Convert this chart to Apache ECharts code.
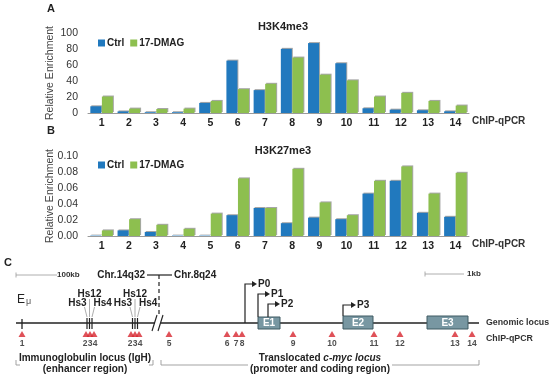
<!DOCTYPE html>
<html><head><meta charset="utf-8">
<script src="https://cdn.jsdelivr.net/npm/echarts@6/dist/echarts.min.js"></script>
<style>html,body{margin:0;padding:0;background:#fff}#c{width:550px;height:378px}</style>
</head><body><div id="c"></div>
<script>
const categories = ['1','2','3','4','5','6','7','8','9','10','11','12','13','14'];
const seriesNames = ['Ctrl','17-DMAG'];
const k4Ctrl  = [8.4, 2, 1, 1, 12.6, 65.5, 28.6, 80.2, 87.4, 62.2, 5.9, 4.2, 3.4, 2.1];
const k4Dmag  = [20.6, 5.5, 5, 5.5, 15.1, 29.8, 36.5, 69.3, 47.9, 40.8, 20.6, 25.2, 15.1, 9.3];
const k27Ctrl = [0.0005, 0.007, 0.005, 0.0005, 0.0005, 0.026, 0.035, 0.016, 0.023, 0.021, 0.053, 0.069, 0.029, 0.024];
const k27Dmag = [0.007, 0.021, 0.014, 0.009, 0.028, 0.072, 0.035, 0.084, 0.042, 0.026, 0.069, 0.087, 0.053, 0.079];
const k4Ticks = [0, 20, 40, 60, 80, 100];
const k27Ticks = [0, 0.02, 0.04, 0.06, 0.08, 0.10];
// schematic primer positions along the drawn locus (schematic units) and their labels
const primerPos = [22, 86, 90, 94, 131, 135, 139, 169, 227, 236, 242, 293, 332, 374, 400, 455, 472];
const primerLabels = ['1','2','3','4','2','3','4','5','6','7','8','9','10','11','12','13','14'];

const BLUE = '#2179be', GREEN = '#8dbf4f';
const FONT = '"Liberation Sans", Arial, sans-serif';

function barSeries(name, data, idx, color) {
  return {
    name, type: 'bar', data, xAxisIndex: idx, yAxisIndex: idx,
    barWidth: 11, barGap: '5%',
    itemStyle: { color, shadowColor: 'rgba(0,0,0,0.35)', shadowBlur: 0, shadowOffsetX: 1, shadowOffsetY: -1 },
    emphasis: { disabled: true }, animation: false
  };
}
function xAx(idx) {
  return {
    type: 'category', gridIndex: idx, data: categories,
    axisLine: { lineStyle: { color: '#9a9a9a', width: 1 } },
    axisTick: { show: false },
    axisLabel: { color: '#222', fontSize: 10.5, fontWeight: 'bold', fontFamily: FONT, margin: 5 }
  };
}
function yAx(idx, ticks, dec) {
  return {
    type: 'value', gridIndex: idx, min: ticks[0], max: ticks[ticks.length-1],
    interval: ticks[1]-ticks[0],
    name: 'Relative Enrichment', nameLocation: 'middle', nameGap: 32, nameMoveOverlap: false,
    nameTextStyle: { color: '#444', fontSize: 10.5, fontFamily: FONT },
    axisLine: { show: false }, axisTick: { show: false }, splitLine: { show: false },
    axisLabel: { color: '#333', fontSize: 10.5, fontFamily: FONT, margin: 10,
      formatter: v => dec ? v.toFixed(dec) : String(v) }
  };
}

// ---- schematic helpers (panel C) ----
const G = [];
const INK = '#222';
function line(x1,y1,x2,y2,stroke,w,dash){ G.push({type:'line',shape:{x1,y1,x2,y2},style:{stroke:stroke||INK,lineWidth:w||1,lineDash:dash||null},silent:true}); }
function poly(points,stroke,w){ G.push({type:'polyline',shape:{points},style:{stroke:stroke||INK,lineWidth:w||1,fill:null},silent:true}); }
function txt(x,y,text,size,weight,align,color,extra){ G.push({type:'text',x,y,style:Object.assign({text,fill:color||INK,font:(weight||'bold')+' '+size+'px '+FONT,align:align||'left',verticalAlign:'middle',textAlign:align||'left',textVerticalAlign:'middle'},extra||{}),silent:true}); }
function box(x,y,w,h,label){
  G.push({type:'rect',shape:{x,y,width:w,height:h},style:{fill:'#7897a2',stroke:'#3f5a63',lineWidth:1},silent:true});
  txt(x+w/2,y+h/2+0.5,label,10,'bold','center','#fff');
}
function promoter(x,y0,y1,len,label){
  poly([[x,y0],[x,y1],[x+len,y1]],INK,1.2);
  G.push({type:'polygon',shape:{points:[[x+len,y1-3],[x+len+5,y1],[x+len,y1+3]]},style:{fill:INK},silent:true});
  txt(x+len+6,y1,label,10,'bold','left');
}

// panel letters and chart extras
txt(47,9,'A',11,'bold','left');
txt(47,131,'B',11,'bold','left');
txt(4,263,'C',11,'bold','left');
txt(472,121,'ChIP-qPCR',10,'bold','left','#333');
txt(472,244,'ChIP-qPCR',10,'bold','left','#333');

// scale bars
line(16,275,57,275,'#999',0.8); line(16,272.5,16,277.5,'#999',0.8);
txt(57,275,'100kb',8,'bold','left','#333');
line(425,274,464,274,'#999',0.8); line(425,271.5,425,276.5,'#999',0.8);
txt(467,274,'1kb',8,'bold','left','#333');

// chromosome junction
txt(145,275,'Chr.14q32',10,'bold','right');
line(147,275,172,275,INK,1.2);
txt(174,275,'Chr.8q24',10,'bold','left');
line(159,275,159,318,INK,1.2,[4,3]);

// genomic line
line(16,323,479,323,INK,1.3);
G.push({type:'rect',shape:{x:155,y:316,width:6,height:14},style:{fill:'#fff'},silent:true});
line(152,331,157,315,INK,1.1); line(158,331,163,315,INK,1.1);
txt(486,323,'Genomic locus',8.8,'bold','left','#333');
txt(486,339,'ChIP-qPCR',8.8,'bold','left','#333');

// E mu
line(22,319,22,329,INK,1.3);
G.push({type:'text',x:17,y:300,style:{text:'{e|E}{m|μ}',verticalAlign:'middle',textVerticalAlign:'middle',rich:{e:{fontSize:12,fontFamily:FONT,fill:INK,color:INK},m:{fontSize:9,fontFamily:FONT,fill:'#555',color:'#555',padding:[4,0,0,1]}}},silent:true});

// Hs clusters
function hsCluster(cx){
  [-2.5,0,2.5].forEach(d=>line(cx+d,318,cx+d,329,INK,1.2));
  txt(cx,294,'Hs12',10,'bold','center');
  txt(cx-3,303,'Hs3',10,'bold','right');
  txt(cx+4,303,'Hs4',10,'bold','left');
  line(cx-5,307,cx-2.5,317,'#888',0.7);
  line(cx,299,cx,317,'#888',0.7);
  line(cx+5,307,cx+2.5,317,'#888',0.7);
}
hsCluster(89.5); hsCluster(135);

// exons & promoters
promoter(245,323,284,7,'P0');
box(258,317,22,12,'E1');
promoter(258,317,294,7,'P1');
promoter(268,317,304,7,'P2');
box(343,316,30,13,'E2');
promoter(343,316,305,8,'P3');
box(427,316,41,13,'E3');

// brackets & region texts
poly([[16,360],[16,365],[20,365]],'#999',0.9);
poly([[149,365],[153,365],[153,360]],'#999',0.9);
txt(85,358,'Immunoglobulin locus (IgH)',10,'bold','center');
txt(85,369,'(enhancer region)',10,'bold','center');
poly([[161,360],[161,365],[248,365]],'#999',0.9);
poly([[392,365],[479,365],[479,360]],'#999',0.9);
G.push({type:'text',x:320,y:358,style:{text:'{a|Translocated }{b|c-myc locus}',align:'center',textAlign:'center',verticalAlign:'middle',textVerticalAlign:'middle',rich:{a:{fontSize:10,fontWeight:'bold',fontFamily:FONT,fill:INK,color:INK},b:{fontSize:10,fontWeight:'bold',fontStyle:'italic',fontFamily:FONT,fill:INK,color:INK}}},silent:true});
txt(320,369,'(promoter and coding region)',10,'bold','center');

const labelOffsets = {1:[-1,0],3:[1,0],4:[-1,0],6:[1,0]};
const primerData = primerPos.map((p,i)=>({
  value:[p,0.5], name: primerLabels[i],
  label: { offset: labelOffsets[i] || [0,0] }
}));

const option = {
  animation: false,
  textStyle: { fontFamily: FONT },
  title: [
    { text: 'H3K4me3', left: 278, top: 16, textAlign: 'center', textStyle: { fontSize: 11, fontWeight: 'bold', color: '#222', fontFamily: FONT } },
    { text: 'H3K27me3', left: 278, top: 140, textAlign: 'center', textStyle: { fontSize: 11, fontWeight: 'bold', color: '#222', fontFamily: FONT } }
  ],
  legend: [
    { data: seriesNames, left: 93, top: 33, itemWidth: 7, itemHeight: 7, itemGap: 6, icon: 'rect',
      textStyle: { fontSize: 10, fontWeight: 'bold', color: '#222', fontFamily: FONT, padding: [0,0,0,-3] }, selectedMode: false,
      formatter: n => n },
    { data: [{name:'Ctrl '},{name:'17-DMAG '}], left: 93, top: 155, itemWidth: 7, itemHeight: 7, itemGap: 6, icon: 'rect',
      textStyle: { fontSize: 10, fontWeight: 'bold', color: '#222', fontFamily: FONT, padding: [0,0,0,-3] }, selectedMode: false,
      formatter: n => n.trim() }
  ],
  grid: [
    { left: 88, right: 81, top: 33, height: 80 },
    { left: 88, right: 81, top: 156, height: 80 },
    { left: 0, right: 0, top: 330, height: 8 }
  ],
  xAxis: [ xAx(0), xAx(1), { type:'value', gridIndex:2, min:0, max:550, show:false } ],
  yAxis: [ yAx(0, k4Ticks, 0), yAx(1, k27Ticks, 2), { type:'value', gridIndex:2, min:0, max:1, show:false } ],
  series: [
    barSeries('Ctrl', k4Ctrl, 0, BLUE),
    barSeries('17-DMAG', k4Dmag, 0, GREEN),
    barSeries('Ctrl ', k27Ctrl, 1, BLUE),
    barSeries('17-DMAG ', k27Dmag, 1, GREEN),
    { type:'scatter', xAxisIndex:2, yAxisIndex:2, data: primerData, symbol:'triangle', symbolSize:[7,6],
      itemStyle:{ color:'#d7262e' }, silent:true,
      label:{ show:true, position:'bottom', distance:2, formatter: p => p.name, fontSize:8.5, fontWeight:'bold', color:'#222', fontFamily: FONT } }
  ],
  graphic: G
};
const chart = echarts.init(document.getElementById('c'), null, { renderer: 'canvas' });
chart.setOption(option);
</script></body></html>
